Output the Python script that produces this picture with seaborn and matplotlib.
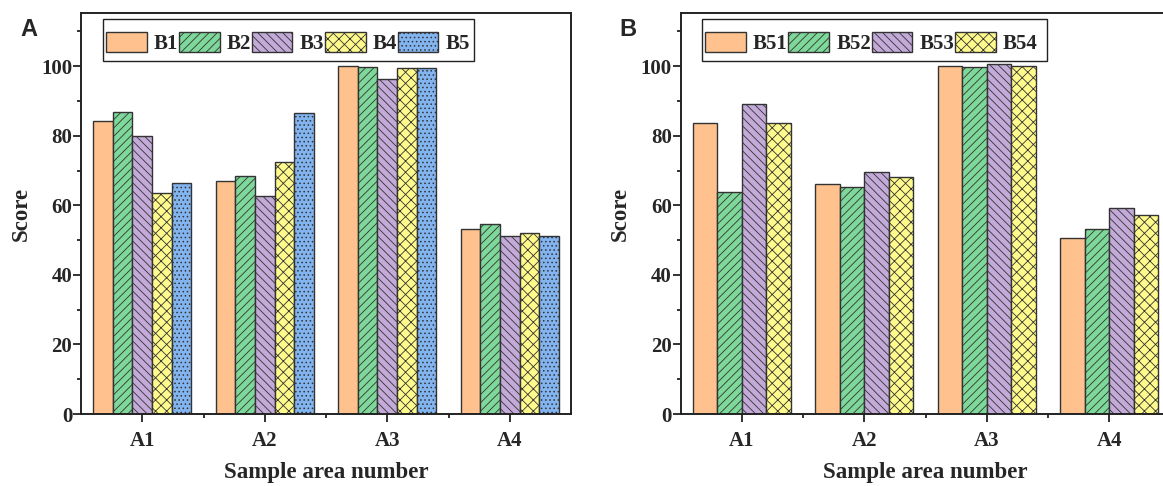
import numpy as np
import pandas as pd
import matplotlib
matplotlib.use("Agg")
import matplotlib.pyplot as plt
import seaborn as sns
from matplotlib.ticker import FixedLocator
from matplotlib.patches import Rectangle

areas = ["A1", "A2", "A3", "A4"]

groups_a = ["B1", "B2", "B3", "B4", "B5"]
b1 = [84.3, 67.0, 100.0, 53.2]
b2 = [86.7, 68.5, 99.9, 54.7]
b3 = [79.8, 62.6, 96.2, 51.3]
b4 = [63.5, 72.4, 99.6, 52.0]
b5 = [66.4, 86.4, 99.6, 51.1]

groups_b = ["B51", "B52", "B53", "B54"]
b51 = [83.6, 66.2, 100.0, 50.6]
b52 = [63.7, 65.2, 99.8, 53.3]
b53 = [89.0, 69.6, 100.5, 59.3]
b54 = [83.6, 68.2, 100.1, 57.2]

colors = ["#FFC28E", "#7DD89A", "#C3AAD8", "#FFFA8C", "#82B4F0"]
hatches = [None, "////", "\\\\\\\\", "xxx", "...."]

sns.set_theme(style="white")
plt.rcParams["font.family"] = ["Liberation Serif", "DejaVu Serif"]
plt.rcParams["hatch.color"] = "#2a2a2a"
plt.rcParams["hatch.linewidth"] = 0.6


def long_df(groups, series):
    rows = []
    for g, vals in zip(groups, series):
        for a, v in zip(areas, vals):
            rows.append({"area": a, "group": g, "score": v})
    return pd.DataFrame(rows)


df_a = long_df(groups_a, [b1, b2, b3, b4, b5])
df_b = long_df(groups_b, [b51, b52, b53, b54])

W, H = 1163, 486
fig = plt.figure(figsize=(W / 100, H / 100), dpi=100)
AX_W, AX_H = 490, 400.7
ax_a = fig.add_axes([81 / W, (H - 414) / H, AX_W / W, AX_H / H])
ax_b = fig.add_axes([680.7 / W, (H - 414) / H, AX_W / W, AX_H / H])


def draw(ax, df, groups, frame_px, handle_x_px):
    n = len(groups)
    sns.barplot(data=df, x="area", y="score", hue="group", order=areas,
                hue_order=groups, palette=colors[:n], width=0.8,
                edgecolor="#333333", linewidth=1.0, saturation=1,
                legend=False, ax=ax, errorbar=None)
    for cont, h in zip(ax.containers, hatches[:n]):
        for p in cont:
            if h:
                p.set_hatch(h)
    ax.set_xlim(-0.5, 3.5)
    ax.set_ylim(0, 115.2)
    ax.yaxis.set_major_locator(FixedLocator([0, 20, 40, 60, 80, 100]))
    ax.yaxis.set_minor_locator(FixedLocator([10, 30, 50, 70, 90, 110]))
    ax.xaxis.set_minor_locator(FixedLocator([0.5, 1.5, 2.5]))
    ax.tick_params(axis="both", which="major", direction="out", length=5.5,
                   width=1.3, color="#222222", labelsize=15,
                   bottom=True, left=True, top=False, right=False)
    ax.tick_params(axis="x", which="major", pad=7)
    ax.tick_params(axis="y", which="major", pad=0.8)
    ax.tick_params(axis="both", which="minor", direction="out", length=3,
                   width=1.3, color="#222222", bottom=True, left=True,
                   top=False, right=False)
    for lab in ax.get_xticklabels() + ax.get_yticklabels():
        lab.set_fontweight("bold")
    for s in ax.spines.values():
        s.set_visible(True)
        s.set_color("#222222")
        s.set_linewidth(1.4)
    ax.set_xlabel("Sample area number", fontsize=16.5, fontweight="bold", labelpad=8)
    ax.set_ylabel("Score", fontsize=16.5, fontweight="bold", labelpad=7)

    # legend (frame drawn separately so the vertical padding can differ)
    x0, x1, y0, y1 = frame_px
    ax_left = ax.get_position().x0 * W
    to_ax_x = lambda px: (px - ax_left) / AX_W
    to_ax_y = lambda py: 1 - (py - 13.3) / AX_H
    ax.add_patch(Rectangle((to_ax_x(x0), to_ax_y(y1)),
                           to_ax_x(x1) - to_ax_x(x0), to_ax_y(y0) - to_ax_y(y1),
                           transform=ax.transAxes, facecolor="white",
                           edgecolor="#222222", linewidth=1.0, zorder=5,
                           clip_on=False))
    leg = ax.legend(ax.containers, groups, loc="center left",
                    bbox_to_anchor=(to_ax_x(handle_x_px), to_ax_y((y0 + y1) / 2 + 3.5)),
                    borderaxespad=0, borderpad=0, ncol=n, frameon=False,
                    handlelength=1.95, handleheight=1.1, handletextpad=0.35,
                    columnspacing=0.03,
                    prop={"weight": "bold", "size": 15})
    leg.set_zorder(6)


draw(ax_a, df_a, groups_a, (103, 474, 18.7, 60.7), 106)
draw(ax_b, df_b, groups_b, (701.7, 1046.7, 18.7, 60.7), 705)

fig.text(20 / W, 1 - 17.5 / H, "A", fontsize=17, fontweight="bold",
         family="Liberation Sans", va="top", ha="left")
fig.text(619 / W, 1 - 17.5 / H, "B", fontsize=17, fontweight="bold",
         family="Liberation Sans", va="top", ha="left")

fig.savefig("out.png", dpi=100)
